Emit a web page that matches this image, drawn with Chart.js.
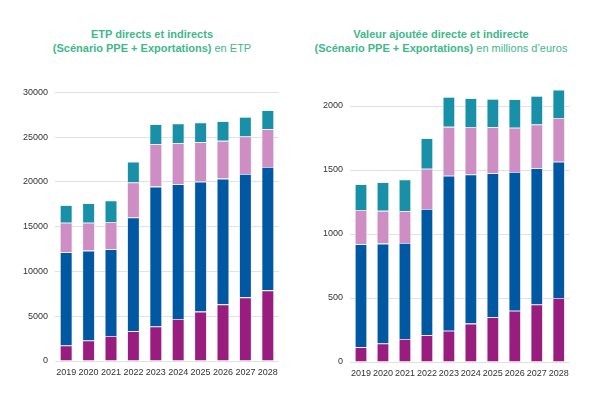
<!DOCTYPE html>
<html>
<head>
<meta charset="utf-8">
<script src="https://cdn.jsdelivr.net/npm/chart.js@4/dist/chart.umd.min.js"></script>
<style>
  html, body { margin: 0; padding: 0; background: #fff; }
  body { width: 600px; height: 397px; position: relative; overflow: hidden; font-family: "Liberation Sans", Arial, sans-serif; }
  .title { position: absolute; text-align: center; color: #40b88a; font-size: 11px; line-height: 13.5px; font-weight: bold; white-space: nowrap; }
  .title span { font-weight: normal; }
  .box { position: absolute; }
</style>
</head>
<body>
<div class="title" style="left: 52px; width: 200px; top: 28px;">ETP directs et indirects<br>(Scénario PPE + Exportations) <span>en ETP</span></div>
<div class="title" style="left: 291px; width: 300px; top: 28px;">Valeur ajoutée directe et indirecte<br>(Scénario PPE + Exportations) <span>en millions d’euros</span></div>
<div class="box" style="left: 0; top: 80px; width: 285px; height: 300px;"><canvas id="etp"></canvas></div>
<div class="box" style="left: 295px; top: 68px; width: 280px; height: 313px;"><canvas id="va"></canvas></div>
<script>
const years = ["2019", "2020", "2021", "2022", "2023", "2024", "2025", "2026", "2027", "2028"]

// ETP (emplois)
const etpPurple = [1740, 2300, 2800, 3330, 3850, 4700, 5520, 6330, 7110, 7890]
const etpBlue = [10410, 10030, 9680, 12710, 15630, 15040, 14520, 14040, 13780, 13780]
const etpPink = [3290, 3110, 3040, 3890, 4740, 4590, 4400, 4220, 4180, 4220]
const etpTeal = [1970, 2190, 2410, 2330, 2220, 2190, 2190, 2190, 2190, 2110]

// Valeur ajoutée (M€)
const vaPurple = [115, 145, 180, 210, 245, 300, 350, 400, 450, 500]
const vaBlue = [805, 780, 750, 985, 1210, 1165, 1125, 1085, 1065, 1065]
const vaPink = [268, 256, 248, 315, 382, 371, 359, 346, 341, 341]
const vaTeal = [201, 224, 248, 238, 233, 225, 222, 222, 222, 222]

const etpTicks = [0, 5000, 10000, 15000, 20000, 25000, 30000]
const vaTicks = [0, 500, 1000, 1500, 2000]

const colors = ["#981d7e", "#0058a3", "#cf8ec3", "#1891a8"]

Chart.defaults.font.family = "'Liberation Sans', Arial, sans-serif"
Chart.defaults.color = "#333"

const dataset = (data, i) => ({
  data,
  backgroundColor: colors[i],
  borderColor: "rgba(225, 232, 242, 0.8)",
  borderWidth: 0.8,
  barPercentage: 0.56,
  categoryPercentage: 1,
})

const buildConfig = (series, max, tickValues, rightPad, top) => ({
  type: "bar",
  data: {
    labels: years,
    datasets: series.map(dataset),
  },
  options: {
    responsive: true,
    maintainAspectRatio: false,
    animation: false,
    layout: {padding: {left: 0, right: rightPad, top: top, bottom: 0}},
    plugins: {legend: {display: false}, tooltip: {enabled: false}},
    scales: {
      x: {
        stacked: true,
        grid: {display: false, drawTicks: false},
        border: {display: false},
        ticks: {font: {size: 9}, color: "#333", padding: 6, maxRotation: 0, autoSkip: false},
        afterFit: (scale) => { scale.height = 19 },
      },
      y: {
        stacked: true,
        min: 0,
        max: max,
        afterBuildTicks: (scale) => { scale.ticks = tickValues.map((value) => ({value})) },
        grid: {color: "#e2e2e2", lineWidth: 1, drawTicks: false},
        border: {display: false},
        ticks: {font: {size: 9}, color: "#333", padding: 7, callback: (value) => String(value)},
        afterFit: (scale) => { scale.width = 55 },
      },
    },
  },
})

new Chart(document.getElementById("etp"), buildConfig([etpPurple, etpBlue, etpPink, etpTeal], 30000, etpTicks, 6, 10))
new Chart(document.getElementById("va"), buildConfig([vaPurple, vaBlue, vaPink, vaTeal], 2200, vaTicks, 5, 10))
</script>
</body>
</html>
